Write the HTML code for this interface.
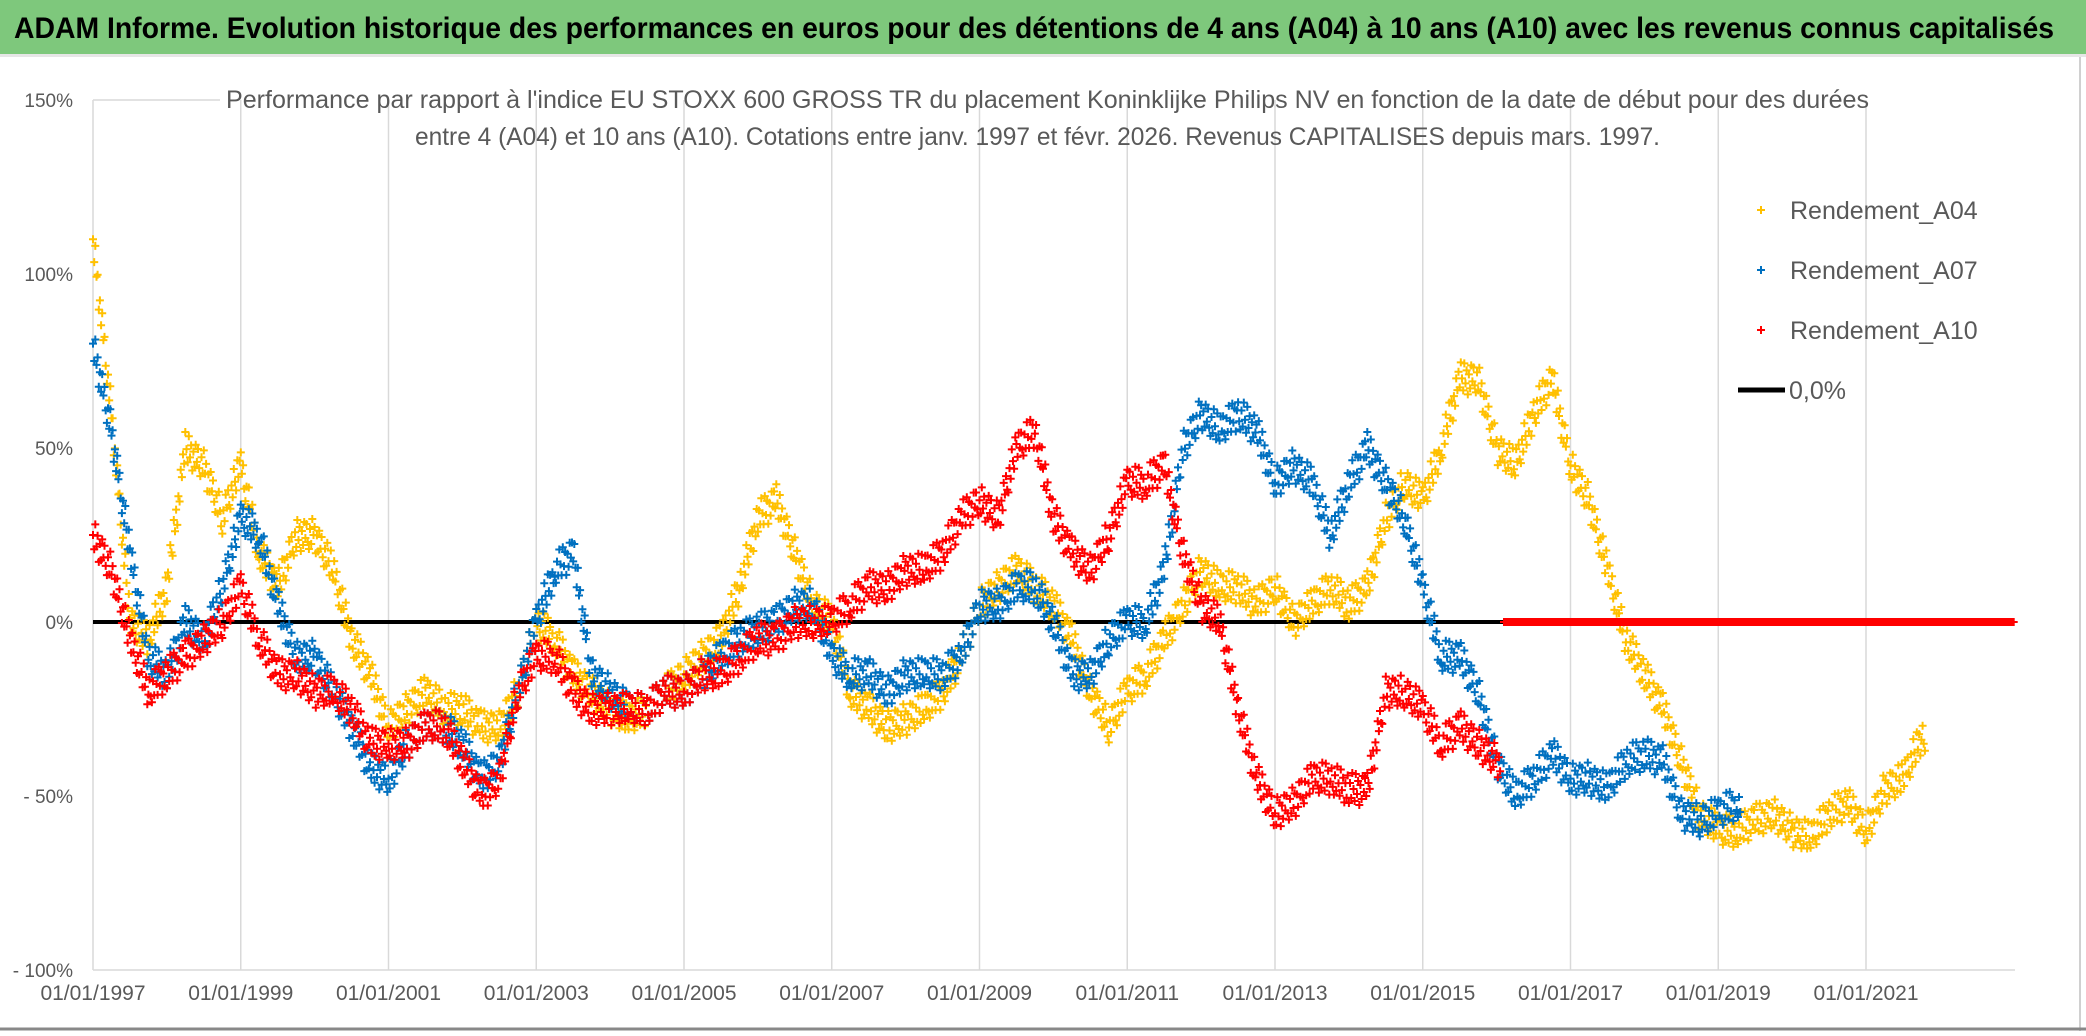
<!DOCTYPE html>
<html><head><meta charset="utf-8"><style>
body{margin:0;width:2086px;height:1031px;overflow:hidden;background:#fff;font-family:"Liberation Sans",sans-serif}
</style></head><body>
<svg id="chart" width="2086" height="1031" xmlns="http://www.w3.org/2000/svg">
<rect x="0" y="0" width="2086" height="1031" fill="#fff"/>
<rect x="0" y="0" width="2086" height="54" fill="#7ec87c"/>
<rect x="0" y="54" width="2086" height="3" fill="#e6e6e6"/>
<text x="14" y="38" font-size="30" font-weight="bold" fill="#000" textLength="2040" lengthAdjust="spacingAndGlyphs">ADAM Informe. Evolution historique des performances en euros pour des détentions de 4 ans (A04) à 10 ans (A10) avec les revenus connus capitalisés</text>
<line x1="2080" y1="57" x2="2080" y2="1031" stroke="#d0d0d0" stroke-width="2"/>
<line x1="0" y1="1029" x2="2086" y2="1029" stroke="#888" stroke-width="3"/>
<g id="grid"></g>
<text x="226" y="108" font-size="25" fill="#595959" textLength="1643" lengthAdjust="spacingAndGlyphs">Performance par rapport à l'indice EU STOXX 600 GROSS TR  du placement Koninklijke Philips NV en fonction de la date de début pour des durées</text>
<text x="415" y="145" font-size="25" fill="#595959" textLength="1245" lengthAdjust="spacingAndGlyphs">entre 4 (A04) et 10 ans (A10). Cotations entre janv. 1997 et févr. 2026. Revenus CAPITALISES depuis mars. 1997.</text>
<g id="yaxis"></g>
<g id="xaxis"></g>
<line id="zero" stroke="#000" stroke-width="4"/>
<g id="s04" stroke="#ffc000" stroke-width="2"></g>
<g id="s07" stroke="#0070c0" stroke-width="2"></g>
<g id="s10" stroke="#ff0000" stroke-width="2"></g>
<g font-size="25" fill="#595959">
 <g><path d="M1757 210h8M1761 206v8" stroke="#ffc000" stroke-width="2"/><text x="1790" y="219">Rendement_A04</text></g>
 <g><path d="M1757 270h8M1761 266v8" stroke="#0070c0" stroke-width="2"/><text x="1790" y="279">Rendement_A07</text></g>
 <g><path d="M1757 330h8M1761 326v8" stroke="#ff0000" stroke-width="2"/><text x="1790" y="339">Rendement_A10</text></g>
 <g><line x1="1738" y1="390" x2="1785" y2="390" stroke="#000" stroke-width="5"/><text x="1789" y="399">0,0%</text></g>
</g>
</svg>
<script>
const yTicks=[150,100,50,0,-50,-100];
const yTickLabels=["150%","100%","50%","0%","- 50%","- 100%"];
const xTickYears=[1997,1999,2001,2003,2005,2007,2009,2011,2013,2015,2017,2019,2021];
const xTickLabels=["01/01/1997","01/01/1999","01/01/2001","01/01/2003","01/01/2005","01/01/2007","01/01/2009","01/01/2011","01/01/2013","01/01/2015","01/01/2017","01/01/2019","01/01/2021"];
const startYear=1997, stepYears=0.25, endYear=2023;
const a04=[110,60,0,-5,10,50,45,30,45,20,10,25,25,15,-5,-15,-30,-25,-20,-25,-25,-30,-30,-20,0,-5,-15,-20,-25,-28,-25,-20,-15,-10,-5,10,30,35,20,5,0,-20,-25,-30,-28,-25,-20,-10,5,10,15,10,5,-5,-20,-30,-20,-15,-5,5,15,10,10,5,10,0,5,10,5,10,30,40,35,50,70,70,50,45,60,70,45,35,15,-5,-15,-25,-40,-55,-60,-60,-57,-55,-60,-62,-55,-52,-60,-48,-45,-33];
const a07=[80,55,20,-10,-15,0,-5,10,30,25,5,-10,-10,-20,-30,-42,-45,-35,-30,-30,-35,-45,-40,-20,0,15,20,-15,-20,-25,-25,-20,-20,-15,-10,-5,-2,0,5,5,-10,-15,-15,-20,-15,-15,-15,-10,5,5,10,10,0,-15,-15,-5,0,0,15,50,60,55,60,55,40,45,40,25,40,50,40,30,10,-10,-10,-20,-40,-50,-45,-38,-45,-45,-48,-40,-38,-40,-55,-57,-55,-52];
const a10=[25,15,-5,-20,-15,-10,-5,0,10,-5,-15,-15,-20,-20,-25,-35,-35,-35,-30,-30,-40,-50,-45,-20,-10,-10,-20,-25,-25,-25,-25,-20,-20,-15,-15,-10,-5,-5,0,0,0,5,10,10,15,15,20,30,35,30,50,55,30,20,15,25,40,40,45,20,5,0,-25,-45,-55,-52,-45,-45,-48,-48,-20,-20,-25,-35,-30,-35,-40];
const a10ZeroStart=2016.1;
const a10ZeroEnd=2023;
const NS="http://www.w3.org/2000/svg";
const X0=93, PXY=73.875, Y0=622, PXV=3.48;
function xOf(yr){return X0+(yr-startYear)*PXY;}
function yOf(v){return Y0-v*PXV;}
const grid=document.getElementById('grid');
xTickYears.forEach((yr,i)=>{
  const l=document.createElementNS(NS,'line');
  
  
  l.setAttribute('x1',xOf(yr));l.setAttribute('x2',xOf(yr));l.setAttribute('y1',yOf(150));l.setAttribute('y2',yOf(-100));
  l.setAttribute('stroke','#d9d9d9');l.setAttribute('stroke-width','1.5');grid.appendChild(l);
  const t=document.createElementNS(NS,'text');
  
  
  t.setAttribute('x',xOf(yr));t.setAttribute('y',1000);t.setAttribute('text-anchor','middle');
  t.setAttribute('font-size','21');t.setAttribute('fill','#595959');t.textContent=xTickLabels[i];
  document.getElementById('xaxis').appendChild(t);
});
const bl=document.createElementNS(NS,'line');


bl.setAttribute('x1',X0);bl.setAttribute('x2',2015);bl.setAttribute('y1',yOf(-100));bl.setAttribute('y2',yOf(-100));
bl.setAttribute('stroke','#d9d9d9');bl.setAttribute('stroke-width','1.5');grid.appendChild(bl);
const tl=document.createElementNS(NS,'line');


tl.setAttribute('x1',X0);tl.setAttribute('x2',220);tl.setAttribute('y1',yOf(150));tl.setAttribute('y2',yOf(150));
tl.setAttribute('stroke','#d9d9d9');tl.setAttribute('stroke-width','1.5');grid.appendChild(tl);
yTicks.forEach((v,i)=>{
  const t=document.createElementNS(NS,'text');
  
  
  t.setAttribute('x',73);t.setAttribute('y',yOf(v)+7);t.setAttribute('text-anchor','end');
  t.setAttribute('font-size','19');t.setAttribute('fill','#595959');t.textContent=yTickLabels[i];
  document.getElementById('yaxis').appendChild(t);
});
const z=document.getElementById('zero');
z.setAttribute('x1',X0);z.setAttribute('x2',xOf(endYear));z.setAttribute('y1',Y0);z.setAttribute('y2',Y0);
const jit=[0,12,-15,5,-8,16,-4,10,-13,3,-11,7,14,-6,9,-16];
function cross(x,y){return `M${(x-4).toFixed(1)} ${y.toFixed(1)}h8M${x.toFixed(1)} ${(y-4).toFixed(1)}v8`;}
function draw(id,vals){
  const g=document.getElementById(id);
  let d='';
  for(let i=0;i<vals.length;i++){
    const v1=vals[i], v2=(i+1<vals.length)?vals[i+1]:vals[i];
    const yr=startYear+i*stepYears;
    const n=(i+1<vals.length)?16:4;
    for(let k=0;k<n;k++){
      const f=k/16;
      d+=cross(xOf(yr+f*stepYears), yOf(v1+(v2-v1)*f)+jit[(k+i*3)%jit.length]);
    }
  }
  const p=document.createElementNS(NS,'path');
  
  
  p.setAttribute('d',d);p.setAttribute('fill','none');g.appendChild(p);
}
draw('s04',a04);
draw('s07',a07);
draw('s10',a10);
(function(){
  let d='';
  for(let yr=a10ZeroStart; yr<=a10ZeroEnd; yr+=0.02){d+=cross(xOf(yr),yOf(0));}
  const p=document.createElementNS(NS,'path');
  
  
  p.setAttribute('d',d);p.setAttribute('fill','none');
  document.getElementById('s10').appendChild(p);
})();
</script>
</body></html>
